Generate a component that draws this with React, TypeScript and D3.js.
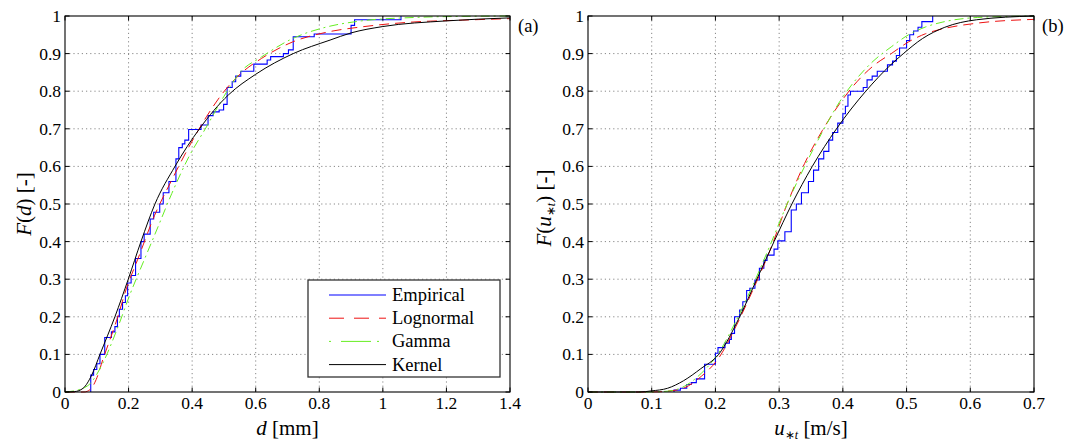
import React from "react";
import * as d3 from "d3";

const W = 1068;
const H = 442;

// ---------- ticks ----------
const yTickVals = [0, 0.1, 0.2, 0.3, 0.4, 0.5, 0.6, 0.7, 0.8, 0.9, 1];
const yTickLabels = ["0", "0.1", "0.2", "0.3", "0.4", "0.5", "0.6", "0.7", "0.8", "0.9", "1"];
const dTickVals = [0, 0.2, 0.4, 0.6, 0.8, 1, 1.2, 1.4];
const dTickLabels = ["0", "0.2", "0.4", "0.6", "0.8", "1", "1.2", "1.4"];
const uTickVals = [0, 0.1, 0.2, 0.3, 0.4, 0.5, 0.6, 0.7];
const uTickLabels = ["0", "0.1", "0.2", "0.3", "0.4", "0.5", "0.6", "0.7"];

// ---------- panel (a): grain diameter d [mm] ----------
const dEmpX = [0.081, 0.09, 0.1, 0.11, 0.125, 0.146, 0.157, 0.165, 0.171, 0.181, 0.19, 0.197, 0.208, 0.222, 0.239, 0.249, 0.268, 0.279, 0.298, 0.309, 0.327, 0.349, 0.358, 0.369, 0.377, 0.389, 0.428, 0.45, 0.466, 0.485, 0.499, 0.51, 0.526, 0.537, 0.553, 0.594, 0.636, 0.647, 0.687, 0.703, 0.718, 0.784, 0.9, 0.911, 1.057];
const dEmpY = [0.045, 0.06, 0.075, 0.1, 0.145, 0.16, 0.174, 0.2, 0.22, 0.238, 0.256, 0.29, 0.31, 0.355, 0.4, 0.42, 0.46, 0.478, 0.5, 0.53, 0.56, 0.62, 0.65, 0.66, 0.67, 0.698, 0.71, 0.735, 0.745, 0.75, 0.765, 0.81, 0.825, 0.84, 0.853, 0.872, 0.883, 0.892, 0.9, 0.91, 0.945, 0.952, 0.975, 0.99, 1.0];

const dLogX = [0, 0.06, 0.081, 0.098, 0.119, 0.163, 0.195, 0.228, 0.282, 0.336, 0.39, 0.445, 0.499, 0.553, 0.618, 0.716, 0.824, 0.933, 1.095, 1.25, 1.4];
const dLogY = [0, 0.0, 0.008, 0.033, 0.086, 0.192, 0.28, 0.351, 0.47, 0.564, 0.652, 0.732, 0.798, 0.847, 0.887, 0.931, 0.957, 0.971, 0.984, 0.989, 0.993];

const dGamX = [0, 0.043, 0.081, 0.119, 0.163, 0.206, 0.249, 0.293, 0.336, 0.39, 0.445, 0.499, 0.553, 0.618, 0.716, 0.824, 0.933, 1.095, 1.25, 1.4];
const dGamY = [0, 0.006, 0.024, 0.077, 0.165, 0.263, 0.351, 0.44, 0.528, 0.626, 0.705, 0.785, 0.852, 0.891, 0.94, 0.971, 0.987, 0.996, 0.999, 1.0];

const dKerX = [0, 0.03, 0.057, 0.084, 0.11, 0.157, 0.199, 0.239, 0.283, 0.346, 0.423, 0.514, 0.6, 0.718, 0.834, 0.9, 1.0, 1.2, 1.4];
const dKerY = [0, 0.001, 0.01, 0.045, 0.1, 0.2, 0.3, 0.4, 0.5, 0.6, 0.7, 0.79, 0.845, 0.9, 0.936, 0.955, 0.972, 0.987, 0.995];

// ---------- panel (b): threshold friction velocity u*t [m/s] ----------
const uEmpX = [0.135, 0.145, 0.155, 0.162, 0.17, 0.183, 0.2, 0.204, 0.215, 0.222, 0.225, 0.23, 0.238, 0.243, 0.249, 0.254, 0.262, 0.269, 0.276, 0.281, 0.292, 0.298, 0.309, 0.319, 0.327, 0.335, 0.346, 0.354, 0.362, 0.37, 0.378, 0.384, 0.392, 0.4, 0.404, 0.408, 0.412, 0.432, 0.438, 0.446, 0.454, 0.47, 0.478, 0.484, 0.489, 0.5, 0.505, 0.511, 0.518, 0.524, 0.541];
const uEmpY = [0.005, 0.01, 0.02, 0.025, 0.035, 0.074, 0.103, 0.118, 0.13, 0.14, 0.156, 0.2, 0.218, 0.24, 0.27, 0.276, 0.298, 0.329, 0.35, 0.364, 0.38, 0.402, 0.426, 0.484, 0.5, 0.53, 0.56, 0.59, 0.62, 0.64, 0.67, 0.69, 0.715, 0.74, 0.76, 0.79, 0.8, 0.81, 0.83, 0.84, 0.853, 0.87, 0.88, 0.895, 0.915, 0.935, 0.95, 0.96, 0.97, 0.985, 1.0];

const uLogX = [0, 0.1, 0.124, 0.151, 0.178, 0.205, 0.232, 0.259, 0.286, 0.313, 0.34, 0.368, 0.395, 0.422, 0.449, 0.476, 0.503, 0.53, 0.557, 0.611, 0.7];
const uLogY = [0, 0, 0.002, 0.011, 0.042, 0.09, 0.174, 0.272, 0.378, 0.502, 0.608, 0.696, 0.767, 0.825, 0.869, 0.9, 0.931, 0.953, 0.966, 0.981, 0.991];

const uGamX = [0, 0.09, 0.124, 0.151, 0.178, 0.205, 0.232, 0.259, 0.286, 0.313, 0.34, 0.368, 0.395, 0.422, 0.449, 0.476, 0.503, 0.53, 0.557, 0.611, 0.7];
const uGamY = [0, 0, 0.002, 0.015, 0.05, 0.104, 0.188, 0.285, 0.391, 0.502, 0.6, 0.692, 0.772, 0.834, 0.882, 0.918, 0.95, 0.971, 0.984, 0.996, 1.0];

const uKerX = [0, 0.08, 0.1, 0.125, 0.15, 0.177, 0.205, 0.238, 0.265, 0.292, 0.32, 0.352, 0.39, 0.436, 0.475, 0.495, 0.525, 0.56, 0.61, 0.7];
const uKerY = [0, 0, 0.003, 0.01, 0.03, 0.062, 0.1, 0.2, 0.3, 0.4, 0.5, 0.6, 0.7, 0.8, 0.87, 0.9, 0.94, 0.97, 0.99, 1.0];

const legendNames = ["Empirical", "Lognormal", "Gamma", "Kernel"];

const TXT: React.CSSProperties = { fontFamily: '"Liberation Serif"' };
const STYLE = {
  emp: { stroke: "#0000ff", dash: undefined as string | undefined, width: 1.1 },
  log: { stroke: "#ee1111", dash: "10 6", width: 1 },
  gam: { stroke: "#66ee22", dash: "9 4 2 4", width: 1 },
  ker: { stroke: "#000000", dash: undefined as string | undefined, width: 1 },
};

const TOP = 16;
const BOTTOM = 392;

type Series = { xs: number[]; ys: number[] };

function zip(xs: number[], ys: number[]): [number, number][] {
  return xs.map((x, i) => [x, ys[i]]);
}

function Panel(props: {
  id: string;
  left: number;
  right: number;
  xMax: number;
  xTicks: number[];
  xLabels: string[];
  emp: Series;
  log: Series;
  gam: Series;
  ker: Series;
  letter: string;
  xLabel: React.ReactNode;
  yLabel: React.ReactNode;
  yLabelX: number;
  yLabelY: number;
  legend: boolean;
}) {
  const { left, right } = props;
  const x = d3.scaleLinear().domain([0, props.xMax]).range([left, right]);
  const y = d3.scaleLinear().domain([0, 1]).range([BOTTOM, TOP]);

  const smooth = d3
    .line<[number, number]>()
    .x((d) => x(d[0]))
    .y((d) => y(d[1]))
    .curve(d3.curveMonotoneX);
  const step = d3
    .line<[number, number]>()
    .x((d) => x(d[0]))
    .y((d) => y(d[1]))
    .curve(d3.curveStepAfter);

  const empPts: [number, number][] = [[props.emp.xs[0], 0], ...zip(props.emp.xs, props.emp.ys)];
  const clipId = `clip-${props.id}`;
  const tickLen = 4.5;
  const cx = (left + right) / 2;

  return (
    <g>
      <defs>
        <clipPath id={clipId}>
          <rect x={left} y={TOP - 1} width={right - left} height={BOTTOM - TOP + 2} />
        </clipPath>
      </defs>
      <rect x={left} y={TOP} width={right - left} height={BOTTOM - TOP} fill="#fff" />
      {props.xTicks.slice(1, -1).map((t, i) => (
        <line key={"gx" + i} x1={x(t)} x2={x(t)} y1={TOP} y2={BOTTOM} stroke="#888" strokeWidth={1} strokeDasharray="1.2 3" />
      ))}
      {yTickVals.slice(1, -1).map((t, i) => (
        <line key={"gy" + i} x1={left} x2={right} y1={y(t)} y2={y(t)} stroke="#888" strokeWidth={1} strokeDasharray="1.2 3" />
      ))}
      <g clipPath={`url(#${clipId})`} fill="none">
        <path d={step(empPts) || ""} stroke={STYLE.emp.stroke} strokeWidth={STYLE.emp.width} />
        <path d={smooth(zip(props.log.xs, props.log.ys)) || ""} stroke={STYLE.log.stroke} strokeWidth={STYLE.log.width} strokeDasharray={STYLE.log.dash} />
        <path d={smooth(zip(props.gam.xs, props.gam.ys)) || ""} stroke={STYLE.gam.stroke} strokeWidth={STYLE.gam.width} strokeDasharray={STYLE.gam.dash} />
        <path d={smooth(zip(props.ker.xs, props.ker.ys)) || ""} stroke={STYLE.ker.stroke} strokeWidth={STYLE.ker.width} />
      </g>
      <rect x={left} y={TOP} width={right - left} height={BOTTOM - TOP} fill="none" stroke="#000" strokeWidth={1.1} />
      {props.xTicks.map((t, i) => (
        <g key={"tx" + i}>
          <line x1={x(t)} x2={x(t)} y1={BOTTOM} y2={BOTTOM - tickLen} stroke="#000" />
          <line x1={x(t)} x2={x(t)} y1={TOP} y2={TOP + tickLen} stroke="#000" />
          <text x={x(t)} y={409} textAnchor="middle" fontSize={17.5} fill="#000" style={TXT}>
            {props.xLabels[i]}
          </text>
        </g>
      ))}
      {yTickVals.map((t, i) => (
        <g key={"ty" + i}>
          <line x1={left} x2={left + tickLen} y1={y(t)} y2={y(t)} stroke="#000" />
          <line x1={right} x2={right - tickLen} y1={y(t)} y2={y(t)} stroke="#000" />
          <text x={left - 4} y={y(t) + 6} textAnchor="end" fontSize={17.5} fill="#000" style={TXT}>
            {yTickLabels[i]}
          </text>
        </g>
      ))}
      <text x={cx} y={435} textAnchor="middle" fontSize={21} fill="#000" style={TXT}>
        {props.xLabel}
      </text>
      <text transform={`translate(${props.yLabelX},${props.yLabelY}) rotate(-90)`} textAnchor="middle" fontSize={21} fill="#000" style={TXT}>
        {props.yLabel}
      </text>
      <text x={right + 8} y={32} fontSize={18.5} fill="#000" style={TXT}>
        {props.letter}
      </text>
      {props.legend && (
        <g>
          <rect x={308} y={280} width={192} height={97} fill="#fff" stroke="#333" strokeWidth={1.3} />
          {legendNames.map((name, i) => {
            const st = [STYLE.emp, STYLE.log, STYLE.gam, STYLE.ker][i];
            const ry = 295 + i * 23.2;
            return (
              <g key={name}>
                <line x1={329} x2={386} y1={ry} y2={ry} stroke={st.stroke} strokeWidth={st.width} strokeDasharray={i === 1 ? "15 10" : i === 2 ? "2 10 30 6" : undefined} />
                <text x={392} y={ry + 6} fontSize={18.5} fill="#000" style={TXT}>
                  {name}
                </text>
              </g>
            );
          })}
        </g>
      )}
    </g>
  );
}

export default function App() {
  return (
    <svg
      width={W}
      height={H}
      viewBox={`0 0 ${W} ${H}`}
      style={{ position: "absolute", left: 0, top: 0, background: "#fff" }}
    >
      <rect x={0} y={0} width={W} height={H} fill="#fff" />
      <Panel
        id="a"
        left={65}
        right={510}
        xMax={1.4}
        xTicks={dTickVals}
        xLabels={dTickLabels}
        emp={{ xs: dEmpX, ys: dEmpY }}
        log={{ xs: dLogX, ys: dLogY }}
        gam={{ xs: dGamX, ys: dGamY }}
        ker={{ xs: dKerX, ys: dKerY }}
        letter="(a)"
        xLabel={
          <>
            <tspan fontStyle="italic">d</tspan> [mm]
          </>
        }
        yLabel={
          <>
            <tspan fontStyle="italic">F</tspan>(<tspan fontStyle="italic">d</tspan>) [-]
          </>
        }
        yLabelX={31}
        yLabelY={204}
        legend={true}
      />
      <Panel
        id="b"
        left={588}
        right={1034}
        xMax={0.7}
        xTicks={uTickVals}
        xLabels={uTickLabels}
        emp={{ xs: uEmpX, ys: uEmpY }}
        log={{ xs: uLogX, ys: uLogY }}
        gam={{ xs: uGamX, ys: uGamY }}
        ker={{ xs: uKerX, ys: uKerY }}
        letter="(b)"
        xLabel={
          <>
            <tspan fontStyle="italic">u</tspan>
            <tspan fontSize={12} dy={4}>∗</tspan>
            <tspan fontSize={12} fontStyle="italic">t</tspan>
            <tspan dy={-4}> [m/s]</tspan>
          </>
        }
        yLabel={
          <>
            <tspan fontStyle="italic">F</tspan>(<tspan fontStyle="italic">u</tspan>
            <tspan fontSize={12} dy={4}>∗</tspan>
            <tspan fontSize={12} fontStyle="italic">t</tspan>
            <tspan dy={-4}>) [-]</tspan>
          </>
        }
        yLabelX={551}
        yLabelY={208}
        legend={false}
      />
    </svg>
  );
}
